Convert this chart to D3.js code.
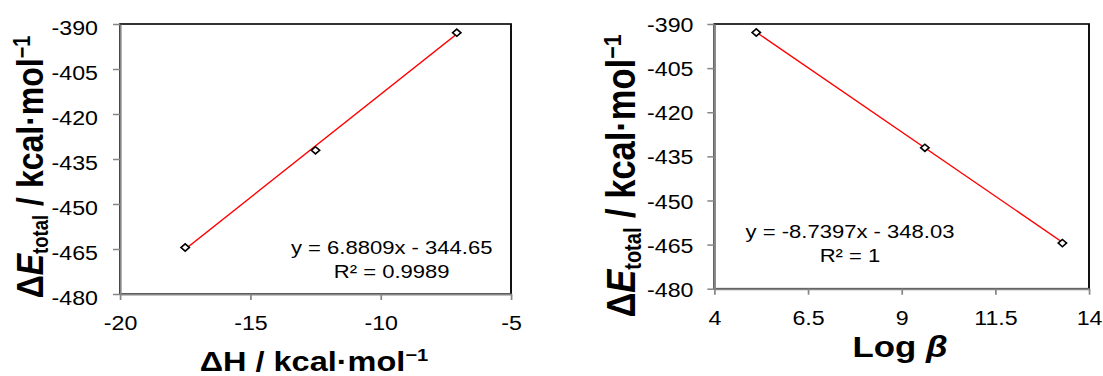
<!DOCTYPE html>
<html>
<head>
<meta charset="utf-8">
<script src="https://cdn.jsdelivr.net/npm/d3@7/dist/d3.min.js"></script>
<style>
  html, body { margin: 0; padding: 0; background: #fff; }
  svg { display: block; }
  text { font-family: Arial, "Liberation Sans", sans-serif; fill: #000; }
</style>
</head>
<body>
<div id="chart"></div>
<script>
// Shared response: total interaction energy (kcal/mol) for the three complexes
const deltaE = [-464.5, -432.1, -392.9];
// Left panel predictor: enthalpy change (kcal/mol), same complex order
const deltaH = [-17.5, -12.5, -7.08];
// Right panel predictor: stability constant, same complex order
const logBeta = [13.29, 9.62, 5.12];

// Linear fits shown on each panel
const fitLeft = { slope: 6.8809, intercept: -344.65, r2: "0.9989" };
const fitRight = { slope: -8.7397, intercept: -348.03, r2: "1" };

// Axis ticks
const yTicks = [-390, -405, -420, -435, -450, -465, -480];
const xTicksLeft = [-20, -15, -10, -5];
const xTicksRight = [4, 6.5, 9, 11.5, 14];

// The artwork is laid out on a slightly narrower canvas and stretched to the page width
const SX = 1.16;
const W = 1103, H = 376;
const VW = W / SX;

const svg = d3.select("#chart").append("svg")
  .attr("width", W).attr("height", H)
  .attr("viewBox", `0 0 ${VW} ${H}`)
  .attr("preserveAspectRatio", "none");

const AXIS_GRAY = "#868686";

function panel(opts) {
  const x = d3.scaleLinear().domain(opts.xDomain).range([opts.x0, opts.x1]);
  const y = d3.scaleLinear().domain([-480, -390]).range([opts.y1, opts.y0]);
  const g = svg.append("g");

  // plot-area frame
  g.append("rect")
    .attr("x", opts.x0).attr("y", opts.y0)
    .attr("width", opts.x1 - opts.x0).attr("height", opts.y1 - opts.y0)
    .attr("fill", "none").attr("stroke", "#000").attr("stroke-width", 1.6);

  // y axis
  const ya = g.append("g").attr("transform", `translate(${opts.x0},0)`)
    .call(d3.axisLeft(y).tickValues(yTicks).tickFormat(d => String(d))
      .tickSize(6).tickSizeOuter(0).tickPadding(opts.yPad));
  ya.select(".domain").attr("stroke", AXIS_GRAY).attr("stroke-width", 1.8);
  ya.selectAll(".tick line").attr("stroke", AXIS_GRAY).attr("stroke-width", 1.5);
  ya.selectAll(".tick text").attr("font-size", 20).attr("dy", opts.yDy)
    .attr("font-family", "Arial, 'Liberation Sans', sans-serif").attr("fill", "#000");

  // x axis
  const xa = g.append("g").attr("transform", `translate(0,${opts.y1})`)
    .call(d3.axisBottom(x).tickValues(opts.xTicks).tickFormat(d => String(d))
      .tickSize(6).tickSizeOuter(0).tickPadding(16));
  xa.select(".domain").attr("stroke", AXIS_GRAY).attr("stroke-width", 2);
  xa.selectAll(".tick line").attr("stroke", AXIS_GRAY).attr("stroke-width", 1.5);
  xa.selectAll(".tick text").attr("font-size", 20)
    .attr("font-family", "Arial, 'Liberation Sans', sans-serif").attr("fill", "#000");

  // trend line over the data range
  const xs = d3.extent(opts.xs);
  g.append("line")
    .attr("x1", x(xs[0])).attr("y1", y(opts.fit.slope * xs[0] + opts.fit.intercept))
    .attr("x2", x(xs[1])).attr("y2", y(opts.fit.slope * xs[1] + opts.fit.intercept))
    .attr("stroke", "#ff0000").attr("stroke-width", 1.3);

  // open diamond markers
  const diamond = d3.symbol(d3.symbolSquare, 26)();
  g.selectAll("path.pt").data(opts.xs.map((v, i) => [v, deltaE[i]]))
    .join("path").attr("class", "pt")
    .attr("d", diamond)
    .attr("transform", d => `translate(${x(d[0])},${y(d[1])}) rotate(45)`)
    .attr("fill", "#fff").attr("stroke", "#000").attr("stroke-width", 1.5);

  // regression labels
  const sign = opts.fit.intercept < 0 ? "-" : "+";
  g.append("text").attr("x", opts.eqX).attr("y", opts.eqY).attr("text-anchor", "middle")
    .attr("font-size", 19)
    .text(`y = ${opts.fit.slope}x ${sign} ${Math.abs(opts.fit.intercept).toFixed(2)}`);
  g.append("text").attr("x", opts.eqX).attr("y", opts.eqY + 24).attr("text-anchor", "middle")
    .attr("font-size", 19)
    .text(`R² = ${opts.fit.r2}`);

  // y title: ΔE_total / kcal·mol⁻¹
  const fy = opts.yTitleSize;
  const yt = g.append("text")
    .attr("transform", `translate(${opts.yTitleX},${opts.yTitleY}) rotate(-90)`)
    .attr("text-anchor", "middle").attr("font-weight", "bold").attr("font-size", fy);
  yt.append("tspan").text("Δ");
  yt.append("tspan").attr("font-style", "italic").text("E");
  yt.append("tspan").attr("font-size", fy * 0.58).attr("dy", fy * 0.14).text("total");
  yt.append("tspan").attr("dy", -fy * 0.14).text(" / kcal·mol");
  yt.append("tspan").attr("font-size", fy * 0.62).attr("dy", -fy * 0.36).text("−1");

  // x title
  const xt = g.append("text").attr("x", opts.xTitleX).attr("y", opts.xTitleY)
    .attr("text-anchor", "middle").attr("font-weight", "bold").attr("font-size", opts.xTitleSize);
  opts.xTitle(xt, opts.xTitleSize);
}

panel({
  xDomain: [-20, -5], xTicks: xTicksLeft, xs: deltaH, fit: fitLeft,
  x0: 120 / SX, x1: 511 / SX, y0: 24, y1: 294,
  yPad: 13, yDy: "0.5em",
  eqX: 391.7 / SX, eqY: 254,
  yTitleSize: 32, yTitleX: 43 / SX, yTitleY: 167,
  xTitleSize: 28, xTitleX: 314 / SX, xTitleY: 371,
  xTitle: (t, f) => {
    t.append("tspan").text("ΔH / kcal·mol");
    t.append("tspan").attr("font-size", f * 0.62).attr("dy", -f * 0.36).text("−1");
  }
});

panel({
  xDomain: [4, 14], xTicks: xTicksRight, xs: logBeta, fit: fitRight,
  x0: 714.3 / SX, x1: 1089 / SX, y0: 24, y1: 288.7,
  yPad: 12, yDy: "0.38em",
  eqX: 850 / SX, eqY: 238.3,
  yTitleSize: 34.5, yTitleX: 635 / SX, yTitleY: 176,
  xTitleSize: 30, xTitleX: 900 / SX, xTitleY: 357,
  xTitle: (t) => {
    t.append("tspan").text("Log ");
    t.append("tspan").attr("font-style", "italic").text("β");
  }
});
</script>
</body>
</html>
